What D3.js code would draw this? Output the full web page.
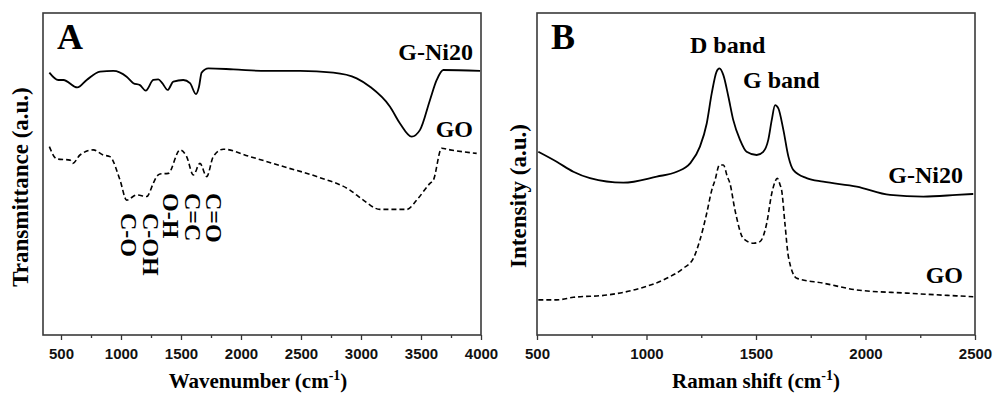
<!DOCTYPE html>
<html><head><meta charset="utf-8">
<script src="https://cdn.jsdelivr.net/npm/d3@7/dist/d3.min.js"></script>
<style>
html,body{margin:0;padding:0;background:#fff;}
svg{display:block;}
.serif{font-family:"Liberation Serif","Times New Roman",serif;font-weight:bold;fill:#000;}
.tick text{font-family:"Liberation Sans",Arial,sans-serif;font-weight:bold;font-size:15px;fill:#111;}
</style>
</head><body>
<svg id="chart" width="994" height="394"></svg>
<script>
// ---------- DATA ----------
// Panel A: FTIR (wavenumber cm-1, relative transmittance a.u.)
const ftirWavenumber_GNi20 = [403,478,520,636,714,825,936,1047,1103,1158,1206,1269,1311,1344,1389,1436,1519,1575,1625,1650,1672,1728,1936,2214,2492,2769,2964,3075,3242,3325,3422,3492,3575,3631,3686,3992];
const ftirT_GNi20 = [0.815,0.792,0.792,0.769,0.792,0.818,0.820,0.802,0.782,0.776,0.759,0.792,0.794,0.782,0.761,0.787,0.792,0.782,0.748,0.771,0.815,0.828,0.825,0.820,0.820,0.815,0.797,0.771,0.709,0.657,0.616,0.637,0.730,0.792,0.823,0.820];
const ftirWavenumber_GO = [403,464,575,598,658,769,853,908,992,1047,1131,1214,1269,1297,1325,1394,1492,1547,1603,1658,1714,1769,1853,2075,2353,2631,2908,3019,3158,3381,3464,3575,3603,3672,3742,3964];
const ftirT_GO = [0.585,0.547,0.543,0.533,0.559,0.575,0.559,0.554,0.481,0.419,0.435,0.430,0.471,0.492,0.500,0.502,0.575,0.554,0.497,0.533,0.492,0.554,0.577,0.554,0.523,0.492,0.450,0.419,0.390,0.390,0.419,0.471,0.481,0.580,0.575,0.564];
const ftirTicks = [500,1000,1500,2000,2500,3000,3500,4000];
const ftirMinorTicks = [750,1250,1750,2250,2750,3250,3750];
const bondLabels = ["C-O","C-OH","O-H","C=C","C=O"];
const bondWavenumbers = [1060,1240,1410,1590,1770];

// Panel B: Raman (shift cm-1, intensity a.u.)
const ramanShift_GNi20 = [506,590,666,742,894,1047,1138,1199,1244,1275,1298,1320,1333,1351,1374,1396,1427,1457,1503,1533,1556,1572,1587,1602,1625,1648,1671,1731,1807,1960,2112,2264,2416,2492];
const ramanI_GNi20 = [0.569,0.538,0.507,0.487,0.473,0.492,0.507,0.533,0.585,0.657,0.751,0.818,0.828,0.807,0.740,0.668,0.606,0.569,0.559,0.569,0.606,0.668,0.714,0.704,0.637,0.554,0.512,0.487,0.476,0.461,0.435,0.430,0.435,0.438];
const ramanShift_GO = [506,590,666,818,970,1092,1168,1214,1244,1275,1298,1313,1333,1351,1369,1381,1404,1442,1488,1518,1549,1572,1587,1597,1610,1617,1632,1648,1686,1807,1960,2188,2492];
const ramanI_GO = [0.109,0.109,0.117,0.124,0.145,0.176,0.207,0.238,0.295,0.378,0.450,0.481,0.528,0.528,0.492,0.471,0.388,0.300,0.285,0.290,0.347,0.440,0.476,0.487,0.466,0.450,0.347,0.243,0.176,0.161,0.140,0.130,0.119];
const ramanTicks = [500,1000,1500,2000,2500];
const ramanMinorTicks = [750,1250,1750,2250];

// ---------- DRAW ----------
const svg = d3.select("#chart");
const plotTop = 13, plotBottom = 335;

function panel(cfg){
  const g = svg.append("g");
  const x = d3.scaleLinear().domain(cfg.xDomain).range([cfg.left, cfg.right]);
  const y = d3.scaleLinear().domain([0,1]).range([plotBottom, plotTop]);
  // minor ticks
  g.append("g").attr("transform",`translate(0,${plotBottom})`)
    .call(d3.axisBottom(x).tickValues(cfg.minor).tickSize(3).tickSizeOuter(0).tickFormat(""))
    .call(s=>s.select(".domain").remove())
    .call(s=>s.selectAll("line").attr("stroke","#333").attr("stroke-width",1.3));
  // major ticks
  g.append("g").attr("transform",`translate(0,${plotBottom})`)
    .call(d3.axisBottom(x).tickValues(cfg.major).tickSize(5).tickSizeOuter(0).tickPadding(8).tickFormat(d3.format("d")))
    .call(s=>s.select(".domain").remove())
    .call(s=>s.selectAll("line").attr("stroke","#333").attr("stroke-width",1.3));
  // frame
  g.append("rect").attr("x",cfg.left).attr("y",plotTop)
    .attr("width",cfg.right-cfg.left).attr("height",plotBottom-plotTop)
    .attr("fill","none").attr("stroke","#3a3a3a").attr("stroke-width",1.6);
  const line = d3.line().x(d=>x(d[0])).y(d=>y(d[1])).curve(d3.curveMonotoneX);
  cfg.series.forEach(s=>{
    g.append("path").datum(d3.zip(s.x, s.y))
      .attr("d", line).attr("fill","none").attr("stroke","#000")
      .attr("stroke-width", s.dash ? 1.6 : 1.8)
      .attr("stroke-dasharray", s.dash ? "5,3" : null);
  });
  // x title
  const t = g.append("text").attr("class","serif").attr("x",cfg.titleX).attr("y",388)
    .attr("text-anchor","middle").style("font-size","21px");
  t.append("tspan").text(cfg.xTitle + " (cm");
  t.append("tspan").attr("dy","-0.55em").style("font-size","14px").text("-1");
  t.append("tspan").attr("dy","0.38em").text(")");
  // y title
  g.append("text").attr("class","serif")
    .attr("transform",`translate(${cfg.yTitleX},${cfg.yTitleY}) rotate(-90)`)
    .attr("text-anchor","middle").style("font-size","23px").text(cfg.yTitle);
  // panel letter
  g.append("text").attr("class","serif").attr("x",cfg.left+14).attr("y",49)
    .style("font-size","36px").text(cfg.letter);
  return {g,x,y};
}

const A = panel({
  left:43, right:481, xDomain:[350,4000], major:ftirTicks, minor:ftirMinorTicks,
  series:[{x:ftirWavenumber_GNi20,y:ftirT_GNi20,dash:false},{x:ftirWavenumber_GO,y:ftirT_GO,dash:true}],
  xTitle:"Wavenumber", titleX:258, yTitle:"Transmittance (a.u.)", yTitleX:28, yTitleY:187, letter:"A"
});
A.g.append("text").attr("class","serif").attr("x",473).attr("y",60).attr("text-anchor","end").style("font-size","24px").text("G-Ni20");
A.g.append("text").attr("class","serif").attr("x",473).attr("y",137).attr("text-anchor","end").style("font-size","24px").text("GO");
const bondTop = [213,213,193,193,193];
bondLabels.forEach((lab,i)=>{
  A.g.append("text").attr("class","serif")
    .attr("transform",`translate(${A.x(bondWavenumbers[i])-7},${bondTop[i]}) rotate(90)`)
    .style("font-size","24px").text(lab);
});

const B = panel({
  left:537, right:975, xDomain:[500,2500], major:ramanTicks, minor:ramanMinorTicks,
  series:[{x:ramanShift_GNi20,y:ramanI_GNi20,dash:false},{x:ramanShift_GO,y:ramanI_GO,dash:true}],
  xTitle:"Raman shift", titleX:756, yTitle:"Intensity (a.u.)", yTitleX:526, yTitleY:196, letter:"B"
});
B.g.append("text").attr("class","serif").attr("x",690).attr("y",53).style("font-size","24px").text("D band");
B.g.append("text").attr("class","serif").attr("x",743).attr("y",88).style("font-size","24px").text("G band");
B.g.append("text").attr("class","serif").attr("x",963).attr("y",183).attr("text-anchor","end").style("font-size","24px").text("G-Ni20");
B.g.append("text").attr("class","serif").attr("x",963).attr("y",283).attr("text-anchor","end").style("font-size","24px").text("GO");
</script>
</body></html>
